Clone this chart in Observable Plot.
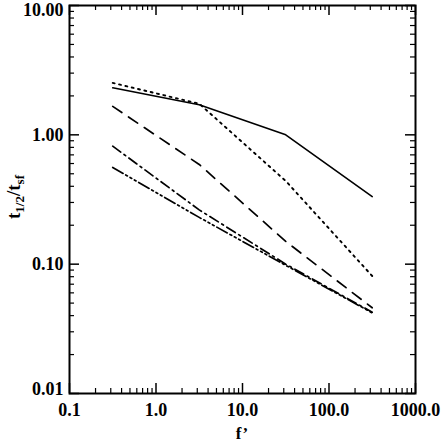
<!DOCTYPE html>
<html><head><meta charset="utf-8">
<script src="https://cdn.jsdelivr.net/npm/d3@7"></script>
<script src="https://cdn.jsdelivr.net/npm/@observablehq/plot@0.6"></script>
<style>body{margin:0;background:#fff;} #chart{width:442px;height:442px;}</style>
</head><body><div id="chart"></div>
<script>
// data
const fValues   = [0.316, 3.16, 31.6, 316];
const solid     = [2.31, 1.71, 1.00, 0.333];
const dotted    = [2.52, 1.74, 0.44, 0.081];
const dashed    = [1.66, 0.59, 0.15, 0.046];
const dashDot   = [0.817, 0.263, 0.100, 0.0425];
const dashDot3  = [0.56, 0.23, 0.098, 0.042];
const seriesNames = ["solid", "dotted", "dashed", "dashDot", "dashDot3"];
const seriesValues = [solid, dotted, dashed, dashDot, dashDot3];

const xTicks = [0.1, 1, 10, 100, 1000];
const xTickLabels = ["0.1", "1.0", "10.0", "100.0", "1000.0"];
const yTicks = [0.01, 0.1, 1, 10];
const yTickLabels = ["0.01", "0.10", "1.00", "10.00"];
const minorMultipliers = [2, 3, 4, 5, 6, 7, 8, 9];

const xMinor = xTicks.slice(0, -1).flatMap(d => minorMultipliers.map(m => d * m));
const yMinor = yTicks.slice(0, -1).flatMap(d => minorMultipliers.map(m => d * m));

const table = seriesNames.flatMap((s, j) => fValues.map((f, i) => ({series: s, f, v: seriesValues[j][i]})));
const dash = {solid: null, dotted: "2,4.5", dashed: "11,8", dashDot: "10,4,2,4", dashDot3: "12,3,2,3,2,3,2,3"};
const widths = {solid: 1.6, dotted: 1.9, dashed: 1.7, dashDot: 1.7, dashDot3: 1.7};

const W = 442, H = 442, mL = 69, mR = 27, mT = 5, mB = 49;
const innerW = W - mL - mR, innerH = H - mT - mB;
const font = "Liberation Serif, Times New Roman, serif";

const lines = seriesNames.map(s => Plot.line(table.filter(d => d.series === s), {
  x: "f", y: "v", stroke: "black", strokeWidth: widths[s], strokeDasharray: dash[s]
}));

// inward ticks on all four sides
const tickMarks = [
  Plot.tickX(xTicks, {x: d => d, insetTop: innerH - 10, strokeWidth: 1.5}),
  Plot.tickX(xTicks, {x: d => d, insetBottom: innerH - 10, strokeWidth: 1.5}),
  Plot.tickX(xMinor, {x: d => d, insetTop: innerH - 5, strokeWidth: 1.2}),
  Plot.tickX(xMinor, {x: d => d, insetBottom: innerH - 5, strokeWidth: 1.2}),
  Plot.tickY(yTicks, {y: d => d, insetRight: innerW - 10, strokeWidth: 1.5}),
  Plot.tickY(yTicks, {y: d => d, insetLeft: innerW - 10, strokeWidth: 1.5}),
  Plot.tickY(yMinor, {y: d => d, insetRight: innerW - 5, strokeWidth: 1.2}),
  Plot.tickY(yMinor, {y: d => d, insetLeft: innerW - 5, strokeWidth: 1.2})
];

const yLab = d => yTickLabels[yTicks.indexOf(d)];
const labelOpts = {anchor: "left", tickSize: 0, tickPadding: 6, label: null, tickFormat: yLab, fontSize: 18, fontWeight: "bold"};

const svg = Plot.plot({
  width: W, height: H,
  marginLeft: mL, marginRight: mR, marginTop: mT, marginBottom: mB,
  style: {fontFamily: font, background: "white", color: "black"},
  x: {type: "log", domain: [0.1, 1000]},
  y: {type: "log", domain: [0.01, 10]},
  marks: [
    ...lines,
    ...tickMarks,
    Plot.axisX(xTicks, {anchor: "bottom", tickSize: 0, tickPadding: 10, label: null,
      tickFormat: d => xTickLabels[xTicks.indexOf(d)], fontSize: 18, fontWeight: "bold"}),
    Plot.axisY([0.1, 1], labelOpts),
    Plot.axisY([10], {...labelOpts, dy: 5}),
    Plot.axisY([0.01], {...labelOpts, dy: -4}),
    Plot.frame({stroke: "black", strokeWidth: 2})
  ]
});

const s = d3.select(svg);
const yl = s.append("text")
  .attr("transform", "translate(20,197) rotate(-90)")
  .attr("text-anchor", "middle")
  .attr("font-family", font).attr("font-weight", "bold").attr("font-size", 19).attr("fill", "black");
yl.append("tspan").text("t");
yl.append("tspan").attr("font-size", 13).attr("dy", 4).text("1/2");
yl.append("tspan").attr("dy", -4).text("/t");
yl.append("tspan").attr("font-size", 13).attr("dy", 4).text("sf");

s.append("text")
  .attr("x", 242).attr("y", 439)
  .attr("text-anchor", "middle")
  .attr("font-family", font).attr("font-weight", "bold").attr("font-size", 17).attr("fill", "black")
  .text("f’");

document.getElementById("chart").appendChild(svg);
</script>
</body></html>
